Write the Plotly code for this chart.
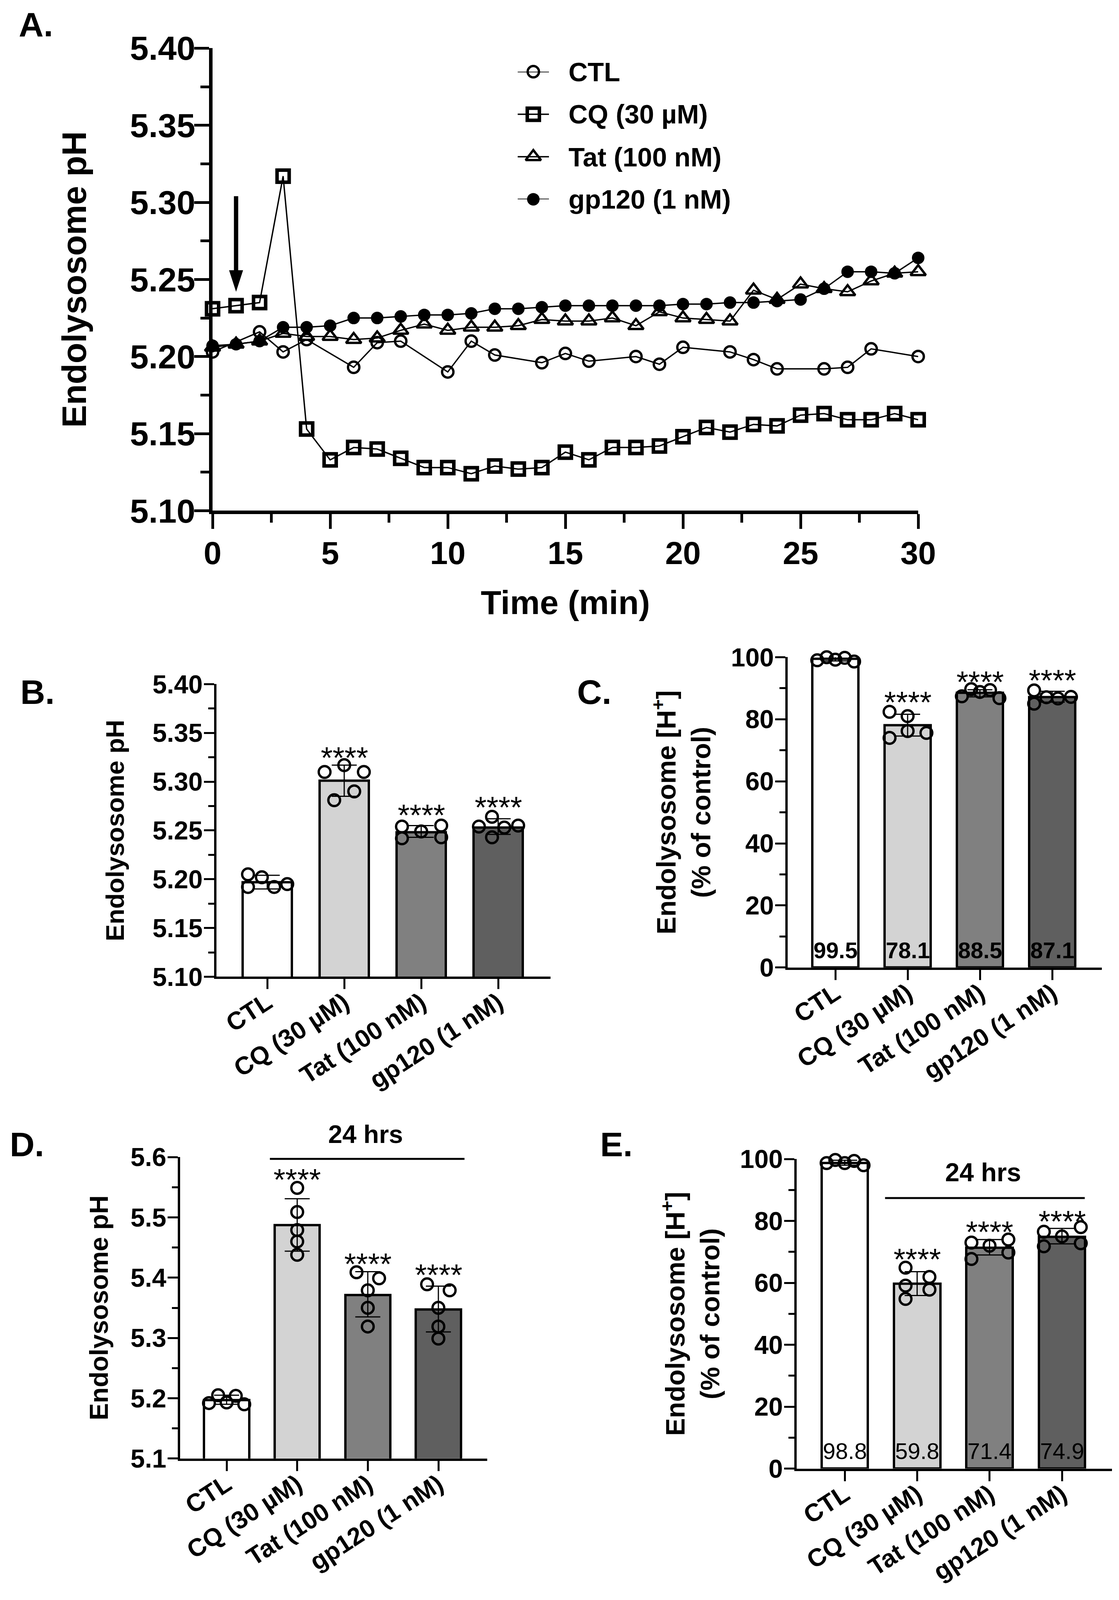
import plotly.graph_objects as go

W, H = 2864, 4151
FONT = "Liberation Sans"

# ==========================================
# Panel A data
# ==========================================
TIME = list(range(31))
CTL_TIME = [0, 2, 3, 4, 6, 7, 8, 10, 11, 12, 14, 15, 16, 18, 19, 20, 22, 23, 24, 26, 27, 28, 30]
CTL_PH = [5.203, 5.216, 5.203, 5.211, 5.193, 5.209, 5.210, 5.190, 5.210, 5.201, 5.196, 5.202,
          5.197, 5.200, 5.195, 5.206, 5.203, 5.198, 5.192, 5.192, 5.193, 5.205, 5.200]
CQ_PH = [5.231, 5.233, 5.235, 5.317, 5.153, 5.133, 5.141, 5.140, 5.134, 5.128, 5.128, 5.124,
         5.129, 5.127, 5.128, 5.138, 5.133, 5.141, 5.141, 5.142, 5.148, 5.154, 5.151, 5.156,
         5.155, 5.162, 5.163, 5.159, 5.159, 5.163, 5.159]
TAT_PH = [5.206, 5.208, 5.210, 5.215, 5.213, 5.213, 5.211, 5.212, 5.217, 5.221, 5.217, 5.219,
          5.219, 5.220, 5.224, 5.223, 5.223, 5.225, 5.220, 5.229, 5.225, 5.224, 5.223, 5.243,
          5.237, 5.247, 5.244, 5.242, 5.249, 5.254, 5.255]
GP120_PH = [5.207, 5.208, 5.210, 5.219, 5.219, 5.220, 5.225, 5.225, 5.226, 5.227, 5.227, 5.228,
            5.231, 5.231, 5.232, 5.233, 5.233, 5.233, 5.233, 5.233, 5.234, 5.234, 5.235, 5.235,
            5.236, 5.237, 5.244, 5.255, 5.255, 5.254, 5.264]
SERIES_NAMES = ["CTL", "CQ (30 µM)", "Tat (100 nM)", "gp120 (1 nM)"]

# ==========================================
# Panels B-E data
# ==========================================
CATEGORIES = ["CTL", "CQ (30 µM)", "Tat (100 nM)", "gp120 (1 nM)"]
BAR_COLORS = ["#ffffff", "#d3d3d3", "#808080", "#5f5f5f"]
STARS = "****"

B_MEAN = [5.197, 5.301, 5.248, 5.253]
B_HI = [5.204, 5.317, 5.255, 5.262]
B_LO = [5.190, 5.285, 5.243, 5.246]
B_POINTS = [[5.205, 5.202, 5.192, 5.192, 5.195],
            [5.317, 5.310, 5.310, 5.290, 5.281],
            [5.254, 5.255, 5.249, 5.242, 5.243],
            [5.264, 5.254, 5.255, 5.253, 5.243]]
B_JITTER = [[-0.25, -0.07, -0.25, 0.09, 0.26],
            [0, -0.255, 0.255, 0.13, -0.13],
            [-0.25, 0.26, 0, -0.25, 0.26],
            [-0.08, -0.25, 0.26, 0.08, -0.08]]
B_STAR_Y = [5.331, 5.272, 5.280]

C_MEAN = [99.5, 78.1, 88.5, 87.1]
C_HI = [100.2, 81.6, 89.5, 89.0]
C_LO = [98.8, 74.6, 87.2, 85.5]
C_POINTS = [[99.0, 100.0, 99.2, 99.8, 98.6],
            [82.4, 81.0, 76.2, 75.6, 74.0],
            [89.7, 89.4, 88.8, 87.4, 86.8],
            [89.3, 87.1, 86.7, 87.2, 85.0]]
C_JITTER = [[-0.25, -0.12, 0, 0.13, 0.26],
            [-0.25, 0, 0, 0.26, -0.25],
            [-0.12, 0.14, 0, -0.25, 0.27],
            [-0.25, -0.08, 0.08, 0.26, -0.25]]
C_STAR_Y = [87.4, 94.0, 94.5]
C_LABELS = ["99.5", "78.1", "88.5", "87.1"]

D_MEAN = [5.197, 5.487, 5.371, 5.347]
D_HI = [5.205, 5.531, 5.410, 5.386]
D_LO = [5.190, 5.444, 5.335, 5.310]
D_POINTS = [[5.205, 5.204, 5.193, 5.192, 5.190],
            [5.549, 5.509, 5.479, 5.460, 5.438],
            [5.409, 5.399, 5.379, 5.350, 5.319],
            [5.389, 5.379, 5.350, 5.319, 5.299]]
D_JITTER = [[-0.12, 0.13, 0, -0.25, 0.25],
            [0, 0, 0, 0, 0],
            [-0.16, 0.16, 0, 0, 0],
            [-0.16, 0.16, 0, 0, 0]]
D_STAR_Y = [5.573, 5.433, 5.415]

E_MEAN = [98.8, 59.8, 71.4, 74.9]
E_HI = [99.6, 63.6, 74.0, 77.6]
E_LO = [98.0, 55.9, 69.0, 72.6]
E_POINTS = [[98.7, 99.7, 98.7, 99.4, 98.0],
            [64.9, 61.9, 59.1, 57.8, 54.8],
            [73.0, 74.0, 72.0, 69.8, 67.7],
            [76.5, 78.0, 75.0, 72.8, 71.8]]
E_JITTER = [[-0.25, -0.13, 0, 0.13, 0.26],
            [-0.16, 0.17, -0.16, 0.17, -0.16],
            [-0.25, 0.26, 0, 0.26, -0.25],
            [-0.25, 0.26, 0, 0.26, -0.25]]
E_STAR_Y = [69.6, 78.5, 81.9]
E_LABELS = ["98.8", "59.8", "71.4", "74.9"]

# pixel boxes of the panels: left, right, top, bottom
BOX_A = (544, 2350, 125, 1325)
BOX_B = (554, 1409, 1775, 2534)
BOX_C = (2016, 2820, 1705, 2510)
BOX_D = (461, 1247, 3002, 3784)
BOX_E = (2039, 2846, 3007, 3810)

# ==========================================
# Helpers
# ==========================================

def dom_x(left, right):
    return [left / W, right / W]


def dom_y(top, bottom):
    return [1 - bottom / H, 1 - top / H]


def bold(size):
    return dict(family=FONT, size=size, color="black", weight="bold")


fig = go.Figure()
annotations = []
shapes = []


def add_pixel_text(text, px, py, font, box=BOX_A, axes=("x", "y"), xanchor="left"):
    left, right, top, bottom = box
    annotations.append(dict(
        x=(px - left) / (right - left), y=(bottom - py) / (bottom - top),
        xref=f"{axes[0]} domain", yref=f"{axes[1]} domain", xanchor=xanchor, yanchor="middle",
        text=text, showarrow=False, font=font))


def add_bar_panel(n, mean, hi, lo, points, jitter, star_y, y_range, y_ticks, y_minor, tick_fmt,
                  box, centers, title, title_size, standoff, labels=None, label_bold=True, label_y=0):
    left, right, top, bottom = box
    spacing = (centers[3] - centers[0]) / 3
    x_range = [-(centers[0] - left) / spacing, 3 + (right - centers[3]) / spacing]
    xa, ya = f"x{n}", f"y{n}"

    fig.add_trace(go.Bar(
        x=list(range(4)), y=mean, width=0.64, xaxis=xa, yaxis=ya, showlegend=False,
        marker=dict(color=BAR_COLORS, line=dict(color="black", width=6)),
        error_y=dict(type="data", symmetric=False,
                     array=[h - m for h, m in zip(hi, mean)],
                     arrayminus=[m - l for m, l in zip(mean, lo)],
                     color="black", thickness=3, width=32),
    ))
    for i in range(4):
        fig.add_trace(go.Scatter(
            x=[i + j for j in jitter[i]], y=points[i], xaxis=xa, yaxis=ya, mode="markers",
            showlegend=False, cliponaxis=False,
            marker=dict(symbol="circle-open", size=30, color="black", line=dict(width=6)),
        ))
    for i, y in enumerate(star_y):
        annotations.append(dict(x=i + 1, y=y, xref=xa, yref=ya, text=STARS, showarrow=False,
                                yshift=-16,
                                font=dict(family=FONT, size=78, color="black")))
    if labels:
        for i, t in enumerate(labels):
            font = bold(58) if label_bold else dict(family=FONT, size=58, color="black")
            annotations.append(dict(x=i, y=label_y, xref=xa, yref=ya, text=t, showarrow=False,
                                    font=font))

    common = dict(showline=True, linecolor="black", linewidth=6, showgrid=False, zeroline=False,
                  ticks="outside", tickwidth=5, tickcolor="black", ticklen=26, automargin=False)
    fig.update_layout({
        f"xaxis{n}": dict(domain=dom_x(left, right), anchor=ya, range=x_range, tickmode="array",
                          tickvals=list(range(4)), ticktext=CATEGORIES, tickangle=-33,
                          tickfont=bold(64), ticklabelstandoff=-28, **common),
        f"yaxis{n}": dict(domain=dom_y(top, bottom), anchor=xa, range=y_range, tickmode="array",
                          tickvals=y_ticks, ticktext=[tick_fmt % v for v in y_ticks],
                          tickfont=bold(66), ticklabelstandoff=-10,
                          minor=dict(tickmode="array", tickvals=y_minor, ticks="outside", ticklen=15,
                                     tickwidth=5, tickcolor="black"),
                          title=dict(text=title, font=bold(title_size), standoff=standoff), **common),
    })


# ==========================================
# Panel A
# ==========================================
line_style = dict(color="black", width=3.5)
MARKERS = [
    dict(symbol="circle-open", size=29, color="black", line=dict(width=6)),
    dict(symbol="square-open", size=31, color="black", line=dict(width=9)),
    dict(symbol="triangle-up-open", size=34, color="black", line=dict(width=6)),
    dict(symbol="circle", size=32, color="black"),
]
for i, (xs, ys) in enumerate([(CTL_TIME, CTL_PH), (TIME, CQ_PH), (TIME, TAT_PH), (TIME, GP120_PH)]):
    fig.add_trace(go.Scatter(x=xs, y=ys, name=SERIES_NAMES[i], mode="lines+markers", showlegend=False,
                             line=line_style, cliponaxis=False, marker=MARKERS[i]))

# stimulus arrow
fig.add_trace(go.Scatter(x=[1, 1], y=[5.304, 5.255], mode="lines", showlegend=False,
                         line=dict(color="black", width=11)))
fig.add_trace(go.Scatter(x=[1], y=[5.242], mode="markers", showlegend=False,
                         marker=dict(symbol="arrow", angle=180, size=58, color="black")))

axis_a = dict(showline=True, linecolor="black", linewidth=9, showgrid=False, zeroline=False,
              ticks="outside", tickwidth=7, tickcolor="black", ticklen=38, automargin=False)
fig.update_layout(
    xaxis=dict(domain=dom_x(BOX_A[0], BOX_A[1]), anchor="y", range=[0, 30], tick0=0, dtick=5,
               tickfont=bold(82), ticklabelstandoff=-9,
               minor=dict(dtick=2.5, tick0=0, ticks="outside", ticklen=22, tickwidth=7, tickcolor="black"),
               title=dict(text="Time (min)", font=bold(86), standoff=55), **axis_a),
    yaxis=dict(domain=dom_y(BOX_A[2], BOX_A[3]), anchor="x", range=[5.1, 5.4], tick0=5.1, dtick=0.05,
               tickformat=".2f", tickfont=bold(86), ticklabelstandoff=-20,
               minor=dict(dtick=0.025, tick0=5.1, ticks="outside", ticklen=22, tickwidth=7, tickcolor="black"),
               title=dict(text="Endolysosome pH", font=bold(87), standoff=86), **axis_a),
)

# legend of panel A drawn by hand, plotly caps legend markers at a small size
LEGEND_ROWS = [186, 296, 407, 517]
fig.update_layout(
    xaxis6=dict(domain=dom_x(1325, 1405), anchor="y6", range=[0, 1], visible=False, automargin=False),
    yaxis6=dict(domain=dom_y(LEGEND_ROWS[0], LEGEND_ROWS[3]), anchor="x6", range=[3, 0], visible=False,
                automargin=False),
)
for i, name in enumerate(SERIES_NAMES):
    fig.add_trace(go.Scatter(x=[0, 1], y=[i, i], xaxis="x6", yaxis="y6", mode="lines", showlegend=False,
                             cliponaxis=False, line=line_style))
    fig.add_trace(go.Scatter(x=[0.5], y=[i], xaxis="x6", yaxis="y6", mode="markers", showlegend=False,
                             cliponaxis=False, marker=MARKERS[i]))
    add_pixel_text(name, 1453, LEGEND_ROWS[i], bold(68))

# ==========================================
# Panels B-E
# ==========================================
add_bar_panel(2, B_MEAN, B_HI, B_LO, B_POINTS, B_JITTER, B_STAR_Y, [5.1, 5.4],
              [5.10, 5.15, 5.20, 5.25, 5.30, 5.35, 5.40],
              [5.125, 5.175, 5.225, 5.275, 5.325, 5.375], "%.2f",
              BOX_B, [684, 881, 1078, 1275], "Endolysosome pH", 65, 54)
add_bar_panel(3, C_MEAN, C_HI, C_LO, C_POINTS, C_JITTER, C_STAR_Y, [0, 100],
              [0, 20, 40, 60, 80, 100], [10, 30, 50, 70, 90], "%d",
              BOX_C, [2138, 2323, 2508, 2693],
              "Endolysosome [H<sup>+</sup>]<br>(% of control)", 68, 32,
              labels=C_LABELS, label_bold=True, label_y=5.6)
add_bar_panel(4, D_MEAN, D_HI, D_LO, D_POINTS, D_JITTER, D_STAR_Y, [5.1, 5.6],
              [5.1, 5.2, 5.3, 5.4, 5.5, 5.6], [5.15, 5.25, 5.35, 5.45, 5.55], "%.1f",
              BOX_D, [580, 761, 942, 1122], "Endolysosome pH", 66, 38)
add_bar_panel(5, E_MEAN, E_HI, E_LO, E_POINTS, E_JITTER, E_STAR_Y, [0, 100],
              [0, 20, 40, 60, 80, 100], [10, 30, 50, 70, 90], "%d",
              BOX_E, [2162, 2347, 2532, 2718],
              "Endolysosome [H<sup>+</sup>]<br>(% of control)", 68, 32,
              labels=E_LABELS, label_bold=False, label_y=5.65)

# "24 hrs" brackets
shapes.append(dict(type="line", xref="x4", yref="y4", x0=0.613, x1=3.37, y0=5.597, y1=5.597,
                   line=dict(color="black", width=5)))
add_pixel_text("24 hrs", 936, 2942, bold(65), box=BOX_D, axes=("x4", "y4"), xanchor="center")
shapes.append(dict(type="line", xref="x5", yref="y5", x0=0.557, x1=3.315, y0=87.4, y1=87.4,
                   line=dict(color="black", width=5)))
annotations.append(dict(x=1.91, y=95.7, xref="x5", yref="y5", text="24 hrs", showarrow=False, font=bold(66)))

# panel letters
for letter, px, py in [("A.", 46, 63), ("B.", 50, 1795), ("C.", 1475, 1795), ("D.", 23, 2969), ("E.", 1534, 2969)]:
    add_pixel_text(letter, px, py, bold(88))

# no fixed size: the page fills the browser window and the domains stay fractions of it
fig.update_layout(
    margin=dict(l=0, r=0, t=0, b=0),
    paper_bgcolor="white", plot_bgcolor="rgba(0,0,0,0)",
    annotations=annotations, shapes=shapes, bargap=0, showlegend=False,
)

fig.write_html("out.html", config={"displayModeBar": False}, default_width="100%", default_height="100vh",
               post_script="document.body.style.margin='0'; Plotly.Plots.resize(document.getElementById('{plot_id}'));")
